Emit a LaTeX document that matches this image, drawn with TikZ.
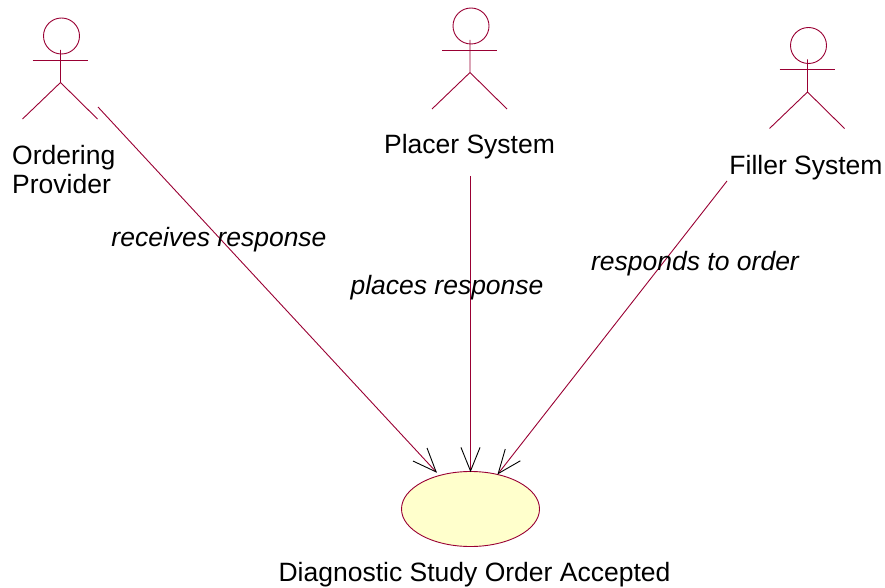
\documentclass[tikz,border=0pt]{standalone}
\usepackage{fontspec}
\setmainfont{Liberation Sans}
\usetikzlibrary{calc,shapes.geometric}
\definecolor{umlline}{HTML}{990033}
\definecolor{umlfill}{HTML}{FFFFCC}
\tikzset{
  x=1pt,y=-1pt,
  limb/.style={draw=umlline,line width=0.9pt},
  usecase/.style={ellipse,draw=umlline,fill=umlfill,line width=0.9pt,minimum width=138pt,minimum height=75pt,inner sep=0pt,outer sep=0pt},
  lbl/.style={font=\fontsize{26.5}{29}\selectfont,text=black,inner sep=0pt},
  role/.style={font=\fontsize{26.5}{29}\selectfont\itshape,text=black,inner sep=0pt},
  assoc/.style={draw=umlline,line width=0.9pt},
  barb/.style={draw=black,line width=0.9pt},
  pics/actor/.style={code={
    \draw[limb] (1,-24) circle[radius=18];
    \draw[limb] (-28,0) -- (27,0);
    \draw[limb] (0,-10) -- (0,22.5) (-38,59) -- (0,22.5) -- (37,59);
  }}
}
\begin{document}
\begin{tikzpicture}
\useasboundingbox (0,0) rectangle (885,588);
\pic at (60.5,60) {actor};
\pic at (470,50) {actor};
\pic at (807.5,69.5) {actor};
\node[usecase] (uc) at (470.5,509) {};
\node[lbl,anchor=west,align=left] (ordering) at (12,170) {Ordering\\Provider};
\node[lbl] (placer) at (469.5,147) {Placer System};
\node[lbl] (filler) at (806,168) {Filler System};
\node[lbl] (uclabel) at (474.5,575) {Diagnostic Study Order Accepted};
\coordinate (a) at (98,107);
\coordinate (b) at (470.5,176);
\coordinate (c) at (727,181);
\coordinate (ta) at ($(uc.center)!50.6pt!(a)$);
\coordinate (tb) at ($(uc.center)!38pt!(b)$);
\coordinate (tc) at ($(uc.center)!45pt!(c)$);
\draw[assoc] (a) -- (ta);
\draw[assoc] (b) -- (tb);
\draw[assoc] (c) -- (tc);
\foreach \s/\t in {a/ta,b/tb,c/tc}
  \draw[barb] ($(\t)!25.5pt!22:(\s)$) -- (\t) -- ($(\t)!25.5pt!-22:(\s)$);
\node[role] (r1) at (219,239.5) {receives response};
\node[role] (r2) at (447,288) {places response};
\node[role] (r3) at (695,263.5) {responds to order};
\end{tikzpicture}
\end{document}
